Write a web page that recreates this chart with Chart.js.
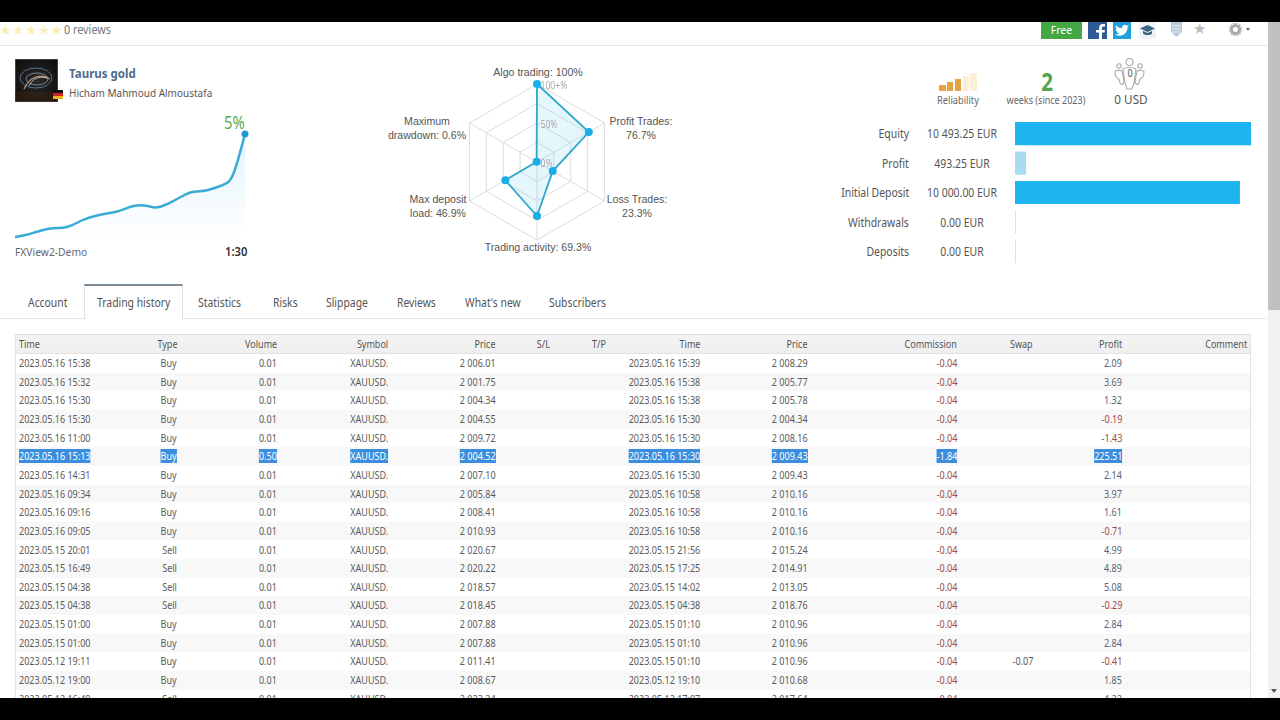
<!DOCTYPE html>
<html><head><meta charset="utf-8">
<script src="https://cdn.jsdelivr.net/npm/chart.js@4"></script>
<style>
html,body{margin:0;padding:0;background:#fff;width:1280px;height:720px;overflow:hidden}
body{font-family:"Noto Sans",sans-serif;color:#555;position:relative}
.a{position:absolute;white-space:nowrap;line-height:14px}
canvas{position:absolute}
svg{display:block}
</style></head><body>
<script>
// ---------- Data ----------
const equityX = [0,5,9.6,15.4,22.6,29.9,35.7,44.4,51.6,56,61.8,67.5,76.2,83.5,92.2,94.4,96.5,100];
const equityPct = [0,0.11,0.25,0.41,0.48,0.83,1.03,1.22,1.48,1.51,1.42,1.65,2.13,2.24,2.59,2.89,3.53,4.93];
const radarNames = ["Algo trading","Profit Trades","Loss Trades","Trading activity","Max deposit load","Maximum drawdown"];
const radarValues = [100,76.7,23.3,69.3,46.9,0.6];
const balanceNames = ["Equity","Profit","Initial Deposit","Withdrawals","Deposits"];
const balanceValues = [10493.25,493.25,10000,0,0];
const balanceTexts = ["10 493.25 EUR","493.25 EUR","10 000.00 EUR","0.00 EUR","0.00 EUR"];
const tabNames = ["Account","Trading history","Statistics","Risks","Slippage","Reviews","What's new","Subscribers"];
const headers = ["Time","Type","Volume","Symbol","Price","S/L","T/P","Time","Price","Commission","Swap","Profit","Comment"];
const openTimes = ["2023.05.16 15:38","2023.05.16 15:32","2023.05.16 15:30","2023.05.16 15:30","2023.05.16 11:00","2023.05.16 15:13","2023.05.16 14:31","2023.05.16 09:34","2023.05.16 09:16","2023.05.16 09:05","2023.05.15 20:01","2023.05.15 16:49","2023.05.15 04:38","2023.05.15 04:38","2023.05.15 01:00","2023.05.15 01:00","2023.05.12 19:11","2023.05.12 19:00","2023.05.12 16:48"];
const tradeTypes = ["Buy","Buy","Buy","Buy","Buy","Buy","Buy","Buy","Buy","Buy","Sell","Sell","Sell","Sell","Buy","Buy","Buy","Buy","Sell"];
const volumes = ["0.01","0.01","0.01","0.01","0.01","0.50","0.01","0.01","0.01","0.01","0.01","0.01","0.01","0.01","0.01","0.01","0.01","0.01","0.01"];
const openPrices = ["2 006.01","2 001.75","2 004.34","2 004.55","2 009.72","2 004.52","2 007.10","2 005.84","2 008.41","2 010.93","2 020.67","2 020.22","2 018.57","2 018.45","2 007.88","2 007.88","2 011.41","2 008.67","2 023.24"];
const closeTimes = ["2023.05.16 15:39","2023.05.16 15:38","2023.05.16 15:38","2023.05.16 15:30","2023.05.16 15:30","2023.05.16 15:30","2023.05.16 15:30","2023.05.16 10:58","2023.05.16 10:58","2023.05.16 10:58","2023.05.15 21:56","2023.05.15 17:25","2023.05.15 14:02","2023.05.15 04:38","2023.05.15 01:10","2023.05.15 01:10","2023.05.15 01:10","2023.05.12 19:10","2023.05.12 17:07"];
const closePrices = ["2 008.29","2 005.77","2 005.78","2 004.34","2 008.16","2 009.43","2 009.43","2 010.16","2 010.16","2 010.16","2 015.24","2 014.91","2 013.05","2 018.76","2 010.96","2 010.96","2 010.96","2 010.68","2 017.64"];
const commissions = ["-0.04","-0.04","-0.04","-0.04","-0.04","-1.84","-0.04","-0.04","-0.04","-0.04","-0.04","-0.04","-0.04","-0.04","-0.04","-0.04","-0.04","-0.04","-0.04"];
const profits = ["2.09","3.69","1.32","-0.19","-1.43","225.51","2.14","3.97","1.61","-0.71","4.99","4.89","5.08","-0.29","2.84","2.84","-0.41","1.85","4.22"];
const symbolName = "XAUUSD.";
const swapRow = 16, swapText = "-0.07", selectedRow = 5;

// ---------- Helpers ----------
function el(tag, css, html, parent){const e=document.createElement(tag);e.style.cssText=css||'';if(html!==undefined)e.innerHTML=html;(parent||document.body).appendChild(e);return e;}
let SX=0.82; // the reference type is horizontally squeezed
function sq(s,x,y,size,align,color,extra,sx){
  const k=sx||SX;
  const e=el('div',`left:${x}px;top:${y-7}px;font-size:${size}px;color:${color||'#555'};${extra||''}`,s);
  e.classList.add('a');
  if(align==='r'){e.style.left='auto';e.style.right=(1280-x)+'px';e.style.transformOrigin='100% 50%';}
  else if(align==='c'){e.style.transform=`translateX(-50%) scaleX(${k})`;return e;}
  else e.style.transformOrigin='0 50%';
  e.style.transform=`scaleX(${k})`;
  return e;
}
function canvas(l,t,w,h){const c=document.createElement('canvas');c.width=w;c.height=h;c.style.cssText=`left:${l}px;top:${t}px;width:${w}px;height:${h}px`;document.body.appendChild(c);return c;}

// ---------- Page frame ----------
el('div','position:absolute;left:0;top:45px;width:1267px;height:1px;background:#e6e6e6');
el('div','position:absolute;left:1268px;top:22px;width:12px;height:676px;background:#f1f1f1');
el('div','position:absolute;left:1268px;top:22px;width:12px;height:288px;background:#c1c1c1');
el('div','position:absolute;left:1271px;top:689px;width:0;height:0;border:3px solid transparent;border-top:4px solid #555');

// stars + reviews
el('div','position:absolute;left:-1px;top:22px;font-size:14.300px;line-height:16px;color:#fbeeb8;font-family:DejaVu Sans;white-space:nowrap','★★★★★');
sq('0 reviews',64,30,12,'l','#777','',0.9);

// header buttons
el('div','position:absolute;left:1041px;top:22px;width:41px;height:17px;background:#43a843;color:#fff;font-size:10.500px;line-height:16px;text-align:center','Free');
el('div','position:absolute;left:1088px;top:22px;width:19px;height:17px;background:#2f5a98');
el('div','position:absolute;left:1096px;top:24px','<svg width="9" height="15" viewBox="0 0 9 15"><path fill="#fff" d="M3 15V8.500H0V6h3V4c0-2.500 1.500-4 4-4h2v2.500H7.500C6.500 2.500 6 3 6 4v2h3l-.5 2.500H6V15z"/></svg>');
el('div','position:absolute;left:1113px;top:22px;width:18px;height:17px;background:#1d9fdc');
el('div','position:absolute;left:1115px;top:24px','<svg width="14" height="13" viewBox="0 0 24 20"><path fill="#fff" d="M24 2.400c-.9.4-1.800.7-2.800.8 1-.6 1.800-1.600 2.200-2.700-1 .6-2 1-3.100 1.200A4.900 4.900 0 0 0 12 6.200C8 6 4.300 4.100 1.700.9c-1.300 2.300-.6 5.100 1.500 6.500-.8 0-1.600-.2-2.200-.6 0 2.400 1.700 4.400 3.900 4.900-.7.2-1.500.2-2.200.1.600 2 2.400 3.400 4.600 3.400A9.900 9.900 0 0 1 0 16.800 14 14 0 0 0 7.500 19c9.100 0 14.300-7.700 14-14.600 1-.7 1.800-1.500 2.500-2z"/></svg>');
el('div','position:absolute;left:1139px;top:22px;width:17px;height:17px;background:#eef3fa');
el('div','position:absolute;left:1140px;top:25px','<svg width="15" height="11" viewBox="0 0 15 11"><path fill="#3a6580" d="M7.500 0 15 3.500 7.500 7 0 3.500z"/><path fill="#3a6580" d="M3 6v2.500c2 2 7 2 9 0V6L7.500 8z"/></svg>');
el('div','position:absolute;left:1171px;top:22px','<svg width="11" height="15" viewBox="0 0 11 15"><path fill="#b9c8d8" d="M0 0h11v10l-5.500 5L0 10z"/><path stroke="#e8eef4" d="M1 4h9M1 7h9M1 10h9"/></svg>');
el('div','position:absolute;left:1193px;top:21px;font:15px/17px "DejaVu Sans";color:#bdbdbd','★');
el('div','position:absolute;left:1229px;top:23px','<svg width="13" height="13" viewBox="0 0 13 13"><circle cx="6.500" cy="6.500" r="4" fill="none" stroke="#aaa" stroke-width="3"/><circle cx="6.500" cy="6.500" r="6" fill="none" stroke="#bbb" stroke-width="1.500" stroke-dasharray="2 1.100"/></svg>');
el('div','position:absolute;left:1246px;top:28px;width:0;height:0;border:2.500px solid transparent;border-top:3px solid #666');

// avatar
el('div','position:absolute;left:15px;top:59px','<svg width="43" height="43" viewBox="0 0 43 43"><defs><radialGradient id="g" cx="50%" cy="50%" r="70%"><stop offset="0" stop-color="#2b2a2c"/><stop offset="1" stop-color="#0c0a08"/></radialGradient></defs><rect width="43" height="43" fill="url(#g)" stroke="#777"/><ellipse cx="21" cy="19" rx="16" ry="10" fill="none" stroke="#56708c" stroke-width="1"/><ellipse cx="22" cy="20" rx="11" ry="6" fill="none" stroke="#8da0b4" stroke-width=".8"/><path d="M9 30C14 18 26 14 35 20" fill="none" stroke="#b29a72" stroke-width="1.200"/><path d="M14 27c4-8 10-10 18-8" fill="none" stroke="#e0d6c0" stroke-width=".8"/><rect y="33" width="43" height="10" fill="#3a2412" opacity=".5"/></svg>');
el('div','position:absolute;left:53px;top:90px;width:10px;height:9px;background:linear-gradient(#111 33%,#c22 33% 66%,#e8b81e 66%)');
sq('Taurus gold',69,73,13,'l','#4c6a90','font-weight:700',0.887);
sq('Hicham Mahmoud Almoustafa',69,93,11.500,'l','#555','',0.869);
sq('5%',224,122,18,'l','#5caa4c');
sq('FXView2-Demo',15,252,11.500,'l','#667','',0.895);
sq('1:30',225,252,12.500,'l','#333','font-weight:600',0.9);

// reliability icon
[[939,6,'#e5a443'],[946.500,9.300,'#e5a443'],[954.500,12.300,'#e5a443'],[962.500,15,'#fbeedb'],[970,18.300,'#fbeedb']].forEach(b=>{
  el('div',`position:absolute;left:${b[0]}px;top:${91-b[1]}px;width:6.500px;height:${b[1]}px;background:${b[2]}`);
});
sq('Reliability',957.500,100,10.500,'c','#666','',0.88);
sq('2',1047,81,25,'c','#53a24c','font-weight:700;line-height:14px');
sq('weeks (since 2023)',1046,100,11,'c','#666');
el('div','position:absolute;left:1114px;top:58px','<svg width="31" height="33" viewBox="0 0 31 33" fill="none" stroke="#aaa" stroke-width="1.100"><circle cx="15.500" cy="4" r="3.500"/><circle cx="5" cy="8" r="2.200"/><circle cx="26" cy="8" r="2.200"/><path d="M1 14c0-2 5-2 7-1l2 11c-1 3-3 3-4 1L5 21c-2 0-4-3-4-7zM30 14c0-2-5-2-7-1l-2 11c1 3 3 3 4 1l1-4c2 0 4-3 4-7z"/><path d="M9 11c3-2 10-2 13 0l-2 14-2 6h-5l-2-6z"/></svg>');
sq('0',1130,73,11,'c','#555');
sq('0 USD',1130.500,99,13,'c','#555','',0.9);

// balance labels
const rowY=[133.500,163.500,192.500,222.500,251.500];
balanceNames.forEach((n,i)=>{ sq(n,909,rowY[i],12,'r','#555','',0.87); sq(balanceTexts[i],962,rowY[i],12,'c','#555','',0.87); });

// radar labels (each label is one wrapped text block)
const radarText=[
 [`${radarNames[0]}: ${radarValues[0]}%`],
 ['Profit Trades:',`${radarValues[1]}%`],
 ['Loss Trades:',`${radarValues[2]}%`],
 [`${radarNames[3]}: ${radarValues[3]}%`],
 ['Max deposit',`load: ${radarValues[4]}%`],
 ['Maximum',`drawdown: ${radarValues[5]}%`]];
const radarPos=[[537.500,73],[640.500,122],[637,200],[537.500,247.500],[437.500,200],[427,122]];
radarText.forEach((lines,i)=>sq(lines.join('<br>'),radarPos[i][0],radarPos[i][1],11.500,'c','#555','font-family:Liberation Sans;line-height:13.500px;text-align:center',0.92));

// tabs
const tabX=[28,97,198,273,326,397,465,549];
el('div','position:absolute;left:0;top:318px;width:1267px;height:1px;background:#e4e4e4');
el('div','position:absolute;left:84px;top:284px;width:99px;height:35px;background:#fff;border-left:1px solid #e0e0e0;border-right:1px solid #e0e0e0;border-top:2px solid #7c8b96;box-sizing:border-box');
tabNames.forEach((t,i)=>sq(t,tabX[i],302.500,12.500,'l','#555','',0.83));

// table
const TL=15,TR=1250,HT=334,HB=354,RH=18.650;
el('div',`position:absolute;left:${TL}px;top:${HT}px;width:${TR-TL}px;height:${HB-HT}px;background:linear-gradient(#f3f3f3,#efefef);border-top:1px solid #dcdcdc;border-bottom:1px solid #e2e2e2;box-sizing:border-box`);
el('div',`position:absolute;left:${TL}px;top:${HT}px;width:1px;height:${698-HT}px;background:#e2e2e2`);
el('div',`position:absolute;left:${TR}px;top:${HT}px;width:1px;height:${698-HT}px;background:#e2e2e2`);
for(let i=1;i<openTimes.length;i+=2) el('div',`position:absolute;left:${TL+1}px;top:${HB+i*RH}px;width:${TR-TL-1}px;height:${RH}px;background:#f8f8f8`);
const colX=[19,177,277,388,496,550,606,700,808,957,1033,1122,1247];
const cols=[openTimes,tradeTypes,volumes,null,openPrices,null,null,closeTimes,closePrices,commissions,null,profits,null];
headers.forEach((h,c)=>sq(h,colX[c],343.500,11,c===0?'l':'r','#555'));
openTimes.forEach((_,r)=>{
  const y=363+r*RH;
  colX.forEach((x,c)=>{
    let v = c===3?symbolName : c===10?(r===swapRow?swapText:'') : cols[c]?cols[c][r]:'';
    if(!v) return;
    let color='#5a5a5a';
    if(c===9||(c===11&&v[0]==='-')) color='#a04848';
    if(c===11&&v[0]!=='-') color='#5a6472';
    let extra='';
    if(r===selectedRow){color='#fff';extra='background:#3b8ede;';}
    sq(v,x,y,11,c===0?'l':'r',color,extra);
  });
});

// black letterbox
el('div','position:absolute;left:0;top:0;width:1280px;height:22px;background:#000;z-index:5');
el('div','position:absolute;left:0;top:698px;width:1280px;height:22px;background:#000;z-index:5');

// ---------- Charts ----------
Chart.defaults.animation=false;
Chart.defaults.responsive=false;
Chart.defaults.plugins.legend.display=false;
Chart.defaults.plugins.tooltip.enabled=false;

// equity sparkline
new Chart(canvas(9,128,242,115),{
  type:'line',
  data:{datasets:[{
    data:equityX.map((x,i)=>({x,y:equityPct[i]})),
    borderColor:'#3aabd4',borderWidth:2.500,tension:0.4,fill:'origin',
    backgroundColor(ctx){
      const a=ctx.chart.chartArea; if(!a) return 'transparent';
      const g=ctx.chart.ctx.createLinearGradient(0,a.top,0,a.bottom);
      g.addColorStop(0,'rgba(40,170,235,0.14)');g.addColorStop(1,'rgba(40,170,235,0)');return g;
    },
    pointRadius:ctx=>ctx.dataIndex===equityX.length-1?3.500:0,
    pointBackgroundColor:'#1e9bd6',pointBorderWidth:0
  }]},
  options:{layout:{padding:6},clip:false,
    scales:{x:{type:'linear',display:false,min:0,max:100},y:{display:false,min:0,max:4.93}}}
});

// radar
const radarTicks={id:'radarTicks',afterDatasetsDraw(ch){
  const s=ch.scales.r,c=ch.ctx;c.save();c.font='10.500px "Noto Sans"';c.fillStyle='#aaa';c.textBaseline='middle';
  [[100,'100+%'],[50,'50%'],[0,'0%']].forEach(t=>{
    const y=s.yCenter-s.getDistanceFromCenterForValue(t[0]);
    c.setTransform(0.82,0,0,1,s.xCenter+3.500,0);c.fillText(t[1],0,y+2);
  });c.restore();
}};
new Chart(canvas(452,77,170,170),{
  type:'radar',
  data:{labels:radarNames,datasets:[{data:radarValues,borderColor:'#2ea8cc',borderWidth:1.800,backgroundColor:'rgba(60,185,240,0.13)',
    pointRadius:4,pointBackgroundColor:'#1aaee6',pointBorderWidth:0}]},
  options:{layout:{padding:7},
    scales:{r:{min:0,max:100,ticks:{display:false,stepSize:25},
      grid:{color:'#dcdcdc',lineWidth:1},angleLines:{color:'#dcdcdc',lineWidth:1},pointLabels:{display:false}}}},
  plugins:[radarTicks]
});

// balance bars
new Chart(canvas(1015,119,237,147),{
  type:'bar',
  data:{labels:balanceNames,datasets:[{data:balanceValues,backgroundColor:['#1fb4ef','#a9dcf3','#1fb4ef','#cfe6f2','#cfe6f2'],
    barPercentage:0.79,categoryPercentage:1,minBarLength:1}]},
  options:{indexAxis:'y',scales:{x:{display:false,min:0,max:10493.25*237/236},y:{display:false}}}
});
</script>
</body></html>
